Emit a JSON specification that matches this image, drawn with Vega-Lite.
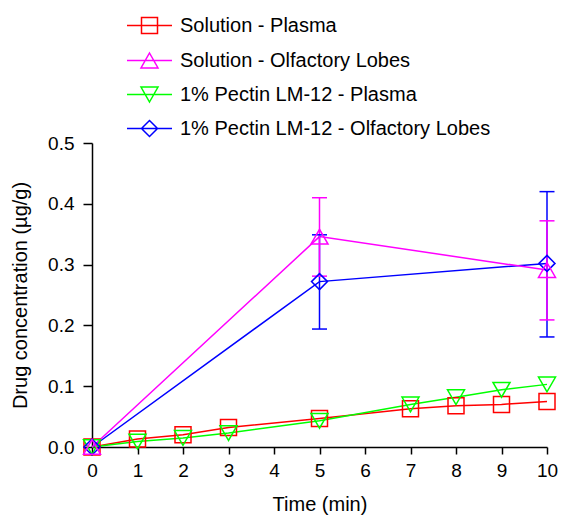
{
  "$schema": "https://vega.github.io/schema/vega-lite/v6.json",
  "autosize": {"type": "none"},
  "width": 455,
  "height": 304,
  "padding": {"left": 92, "top": 143, "right": 15, "bottom": 71},
  "background": "white",
  "config": {
    "view": {"stroke": null},
    "font": "Liberation Sans",
    "axis": {
      "grid": false,
      "domainColor": "#000",
      "domainWidth": 1.5,
      "tickColor": "#000",
      "tickWidth": 1.5,
      "labelColor": "#000",
      "titleColor": "#000",
      "labelFont": "Liberation Sans",
      "titleFont": "Liberation Sans",
      "titleFontWeight": "normal",
      "labelFontSize": 19,
      "titleFontSize": 20
    }
  },
  "datasets": {
    "points": [
      {"series": "Solution - Plasma", "time": 0, "conc": 0},
      {"series": "Solution - Plasma", "time": 1, "conc": 0.013},
      {"series": "Solution - Plasma", "time": 2, "conc": 0.020},
      {"series": "Solution - Plasma", "time": 3, "conc": 0.032},
      {"series": "Solution - Plasma", "time": 5, "conc": 0.047},
      {"series": "Solution - Plasma", "time": 7, "conc": 0.063},
      {"series": "Solution - Plasma", "time": 8, "conc": 0.068},
      {"series": "Solution - Plasma", "time": 9, "conc": 0.070},
      {"series": "Solution - Plasma", "time": 10, "conc": 0.075},
      {"series": "1% Pectin LM-12 - Plasma", "time": 0, "conc": 0},
      {"series": "1% Pectin LM-12 - Plasma", "time": 1, "conc": 0.009},
      {"series": "1% Pectin LM-12 - Plasma", "time": 2, "conc": 0.015},
      {"series": "1% Pectin LM-12 - Plasma", "time": 3, "conc": 0.023},
      {"series": "1% Pectin LM-12 - Plasma", "time": 5, "conc": 0.043},
      {"series": "1% Pectin LM-12 - Plasma", "time": 7, "conc": 0.070},
      {"series": "1% Pectin LM-12 - Plasma", "time": 8, "conc": 0.082},
      {"series": "1% Pectin LM-12 - Plasma", "time": 9, "conc": 0.094},
      {"series": "1% Pectin LM-12 - Plasma", "time": 10, "conc": 0.103},
      {"series": "1% Pectin LM-12 - Olfactory Lobes", "time": 0, "conc": 0},
      {"series": "1% Pectin LM-12 - Olfactory Lobes", "time": 5, "conc": 0.272},
      {"series": "1% Pectin LM-12 - Olfactory Lobes", "time": 10, "conc": 0.302},
      {"series": "Solution - Olfactory Lobes", "time": 0, "conc": 0},
      {"series": "Solution - Olfactory Lobes", "time": 5, "conc": 0.346},
      {"series": "Solution - Olfactory Lobes", "time": 10, "conc": 0.291}
    ],
    "errors": [
      {"series": "1% Pectin LM-12 - Olfactory Lobes", "time": 5, "lo": 0.194, "hi": 0.349},
      {"series": "1% Pectin LM-12 - Olfactory Lobes", "time": 10, "lo": 0.181, "hi": 0.420},
      {"series": "Solution - Olfactory Lobes", "time": 5, "lo": 0.281, "hi": 0.410},
      {"series": "Solution - Olfactory Lobes", "time": 10, "lo": 0.209, "hi": 0.372}
    ]
  },
  "encoding": {
    "x": {
      "field": "time",
      "type": "quantitative",
      "scale": {"domain": [0, 10], "nice": false, "zero": false},
      "axis": {
        "title": "Time (min)",
        "values": [0, 1, 2, 3, 4, 5, 6, 7, 8, 9, 10],
        "tickSize": 7,
        "labelPadding": 7,
        "titlePadding": 14,
        "labelFlush": false,
        "labelOverlap": false
      }
    }
  },
  "layer": [
    {
      "data": {"name": "points"},
      "mark": {"type": "line", "strokeWidth": 1.5},
      "encoding": {
        "y": {
          "field": "conc",
          "type": "quantitative",
          "scale": {"domain": [0, 0.5], "nice": false},
          "axis": {
            "title": "Drug concentration (µg/g)",
            "values": [0, 0.05, 0.1, 0.15, 0.2, 0.25, 0.3, 0.35, 0.4, 0.45, 0.5],
            "labelExpr": "abs(datum.value*10 - round(datum.value*10)) < 0.001 ? format(datum.value, '.1f') : ''",
            "tickSize": {"condition": {"test": "abs(datum.value*10 - round(datum.value*10)) < 0.001", "value": 9}, "value": 5},
            "labelPadding": 9,
            "titlePadding": 17,
            "labelOverlap": false,
            "labelFlush": false
          }
        },
        "color": {
          "field": "series",
          "type": "nominal",
          "scale": {
            "domain": ["Solution - Plasma", "Solution - Olfactory Lobes", "1% Pectin LM-12 - Plasma", "1% Pectin LM-12 - Olfactory Lobes"],
            "range": ["#FF0000", "#FF00FF", "#00FF00", "#0000FF"]
          },
          "legend": {
            "orient": "none",
            "legendX": 41,
            "legendY": -134,
            "title": null,
            "padding": 0,
            "symbolSize": 992,
            "symbolStrokeWidth": 1.5,
            "symbolOpacity": 1,
            "labelFont": "Liberation Sans",
            "labelFontSize": 20,
            "labelColor": "#000",
            "labelOffset": 14,
            "labelLimit": 500,
            "rowPadding": 7,
            "encoding": {
              "symbols": {
                "shape": {"value": {"expr": "datum.value === 'Solution - Plasma' ? 'M-1.4286,0H1.4286M-0.508,-0.508H0.508V0.508H-0.508Z' : datum.value === 'Solution - Olfactory Lobes' ? 'M-1.4286,0H1.4286M0,-0.476L0.54,0.476H-0.54Z' : datum.value === '1% Pectin LM-12 - Plasma' ? 'M-1.4286,0H1.4286M0,0.476L0.54,-0.476H-0.54Z' : 'M-1.4286,0H1.4286M0,-0.508L0.508,0L0,0.508L-0.508,0Z'"}},
                "fill": {"value": "transparent"},
                "strokeWidth": {"value": 1.5}
              }
            }
          }
        }
      }
    },
    {
      "data": {"name": "errors"},
      "mark": {"type": "rule", "strokeWidth": 1.5},
      "encoding": {
        "y": {"field": "lo", "type": "quantitative"},
        "y2": {"field": "hi"},
        "stroke": {
          "field": "series",
          "type": "nominal",
          "scale": {
            "domain": ["Solution - Plasma", "Solution - Olfactory Lobes", "1% Pectin LM-12 - Plasma", "1% Pectin LM-12 - Olfactory Lobes"],
            "range": ["#FF0000", "#FF00FF", "#00FF00", "#0000FF"]
          },
          "legend": null
        }
      }
    },
    {
      "data": {"name": "errors"},
      "mark": {"type": "point", "shape": "stroke", "size": 225, "strokeWidth": 1.5, "opacity": 1, "filled": false},
      "encoding": {
        "y": {"field": "lo", "type": "quantitative"},
        "stroke": {"field": "series", "type": "nominal", "legend": null}
      }
    },
    {
      "data": {"name": "errors"},
      "mark": {"type": "point", "shape": "stroke", "size": 225, "strokeWidth": 1.5, "opacity": 1, "filled": false},
      "encoding": {
        "y": {"field": "hi", "type": "quantitative"},
        "stroke": {"field": "series", "type": "nominal", "legend": null}
      }
    },
    {
      "data": {"name": "points"},
      "transform": [{"filter": "datum.series === 'Solution - Plasma'"}],
      "mark": {"type": "point", "shape": "square", "filled": false, "size": 256, "strokeWidth": 1.5, "opacity": 1},
      "encoding": {
        "y": {"field": "conc", "type": "quantitative"},
        "stroke": {"field": "series", "type": "nominal", "legend": null}
      }
    },
    {
      "data": {"name": "points"},
      "transform": [{"filter": "datum.series === '1% Pectin LM-12 - Plasma'"}],
      "mark": {"type": "point", "shape": "triangle-down", "filled": false, "size": 290, "strokeWidth": 1.5, "opacity": 1},
      "encoding": {
        "y": {"field": "conc", "type": "quantitative"},
        "stroke": {"field": "series", "type": "nominal", "legend": null}
      }
    },
    {
      "data": {"name": "points"},
      "transform": [{"filter": "datum.series === '1% Pectin LM-12 - Olfactory Lobes'"}],
      "mark": {"type": "point", "shape": "diamond", "filled": false, "size": 256, "strokeWidth": 1.5, "opacity": 1},
      "encoding": {
        "y": {"field": "conc", "type": "quantitative"},
        "stroke": {"field": "series", "type": "nominal", "legend": null}
      }
    },
    {
      "data": {"name": "points"},
      "transform": [{"filter": "datum.series === 'Solution - Olfactory Lobes'"}],
      "mark": {"type": "point", "shape": "triangle-up", "filled": false, "size": 290, "strokeWidth": 1.5, "opacity": 1},
      "encoding": {
        "y": {"field": "conc", "type": "quantitative"},
        "stroke": {"field": "series", "type": "nominal", "legend": null}
      }
    }
  ]
}
